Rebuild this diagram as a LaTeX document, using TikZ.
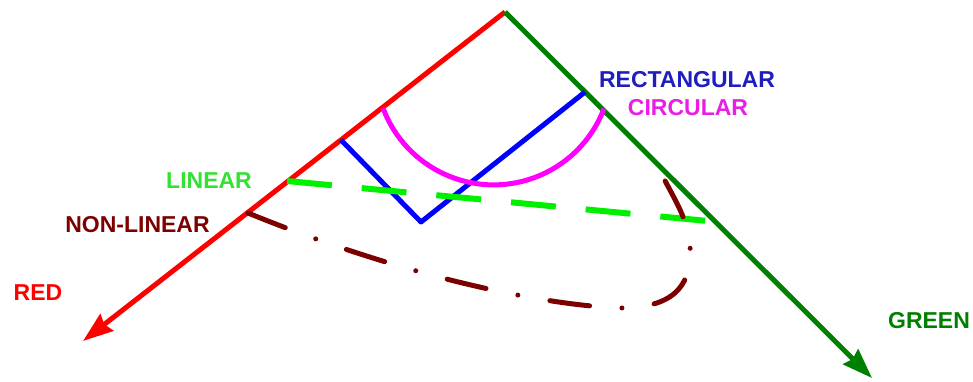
\documentclass[tikz,border=0pt]{standalone}
\usepackage{fontspec}
\setmainfont{Liberation Sans}
\usetikzlibrary{arrows.meta}
\definecolor{axred}{RGB}{255,0,0}
\definecolor{axgreen}{RGB}{0,128,0}
\definecolor{rectblue}{RGB}{0,0,255}
\definecolor{rectlabel}{RGB}{30,30,190}
\definecolor{circmag}{RGB}{255,0,255}
\definecolor{circlabel}{RGB}{230,30,230}
\definecolor{linlime}{RGB}{0,240,0}
\definecolor{linlabel}{RGB}{50,225,50}
\definecolor{nlmaroon}{RGB}{125,0,0}
\tikzset{
  lbl/.style={font=\bfseries\fontsize{23}{26}\selectfont, inner sep=0pt, anchor=center},
  axis/.style={line width=5pt, -{Stealth[length=30pt,width=21pt,inset=3pt]}},
  curve/.style={line width=5pt},
}
\begin{document}
\begin{tikzpicture}[x=1pt,y=-1pt]
\useasboundingbox (0,0) rectangle (973,381);
% axes
\coordinate (apex) at (505,12);
\coordinate (redtip) at (83,341);
\coordinate (greentip) at (872,378);
\draw[axis, axred] (apex) -- (redtip);
\draw[axis, axgreen] (apex) -- (greentip);
% rectangular
\coordinate (b1) at (341,140);
\coordinate (b2) at (421,222);
\coordinate (b3) at (585,92);
\draw[curve, rectblue, line join=round] (b1) -- (b2) -- (b3);
% circular
\coordinate (c1) at (383,108);
\draw[curve, circmag] (c1) arc[start angle=159.6, end angle=20.7, radius=118];
% linear
\coordinate (l1) at (287,181);
\coordinate (l2) at (708,221);
\draw[line width=6pt, linlime, dash pattern=on 45pt off 30pt] (l1) -- (l2);
% non-linear
\coordinate (n1) at (248,213);
\draw[curve, nlmaroon, line cap=round, dash pattern=on 40pt off 32.5pt on 0pt off 32.5pt]
  (n1) .. controls (400,275) and (540,305) .. (620,308)
       .. controls (680,308) and (692,280) .. (690,245)
       .. controls (688,220) and (675,200) .. (662,175);
% labels
\node[lbl, text=axred] (tred) at (38,293) {RED};
\node[lbl, text=axgreen] (tgreen) at (929,320.5) {GREEN};
\node[lbl, text=rectlabel] (trect) at (687,80) {RECTANGULAR};
\node[lbl, text=circlabel] (tcirc) at (688,108) {CIRCULAR};
\node[lbl, text=linlabel] (tlin) at (209,181) {LINEAR};
\node[lbl, text=nlmaroon] (tnl) at (137.5,224.5) {NON-LINEAR};
\end{tikzpicture}
\end{document}
